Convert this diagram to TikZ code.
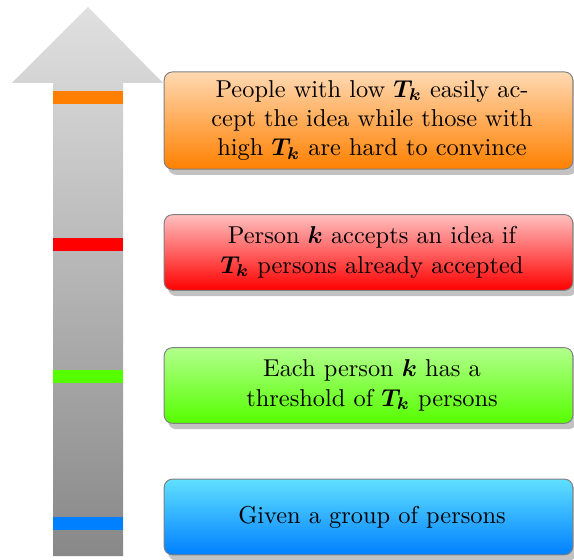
\documentclass[tikz,border=0pt]{standalone}
\usepackage{bm}
\usetikzlibrary{shadows}

\definecolor{barorange}{RGB}{255,128,0}
\definecolor{barred}{RGB}{255,0,0}
\definecolor{bargreen}{RGB}{85,255,0}
\definecolor{barblue}{RGB}{0,128,255}
\definecolor{arrowtop}{RGB}{224,224,224}
\definecolor{arrowbottom}{RGB}{136,136,136}

\tikzset{
    stagebox/.style={rectangle, rounded corners=3.3pt, draw=black!50, align=center,
        text width=161.5pt, minimum height=31pt, inner xsep=3pt, inner ysep=3pt,
        execute at begin node={\leftskip=2.9pt plus 1fil\rightskip=0pt plus 1fil\parfillskip=0pt},
        drop shadow={shadow xshift=1.6pt, shadow yshift=-2.4pt, fill=black!40, opacity=0.6}},
    stagebar/.style={fill=#1}
}

\begin{document}
\begin{tikzpicture}[x=0.41pt,y=-0.41pt]
        \clip (0,0) rectangle (574,560);
        \useasboundingbox (0,0) rectangle (574,560);

        % arrow
        \shade[top color=arrowtop, bottom color=arrowbottom]
            (53,556) -- (53,83) -- (12,83) -- (88,7) -- (163,83) -- (123,83) -- (123,556) -- cycle;

        \fill[stagebar=barorange] (53,91) rectangle (123,104);
        \fill[stagebar=barred] (53,238) rectangle (123,251);
        \fill[stagebar=bargreen] (53,370) rectangle (123,383);
        \fill[stagebar=barblue] (53,517) rectangle (123,530);

        % boxes
        \node[stagebox, minimum height=39.8pt, top color=barorange!30!white, bottom color=barorange] (convince) at (368.5,120.5)
            { People with low $\bm{T_k}$ easily ac-\\ cept the idea while those with\\ high $\bm{T_k}$ are hard to convince };
        \node[stagebox, top color=barred!25!white, bottom color=barred] (accept) at (368.5,252.5)
            { Person $\bm{k}$ accepts an idea if\\ $\bm{T_k}$ persons already accepted };
        \node[stagebox, top color=bargreen!45!white, bottom color=bargreen] (threshold) at (368.5,385.5)
            { Each person $\bm{k}$ has a\\ threshold of $\bm{T_k}$ persons };
        \node[stagebox, top color={rgb,255:red,96;green,224;blue,255}, bottom color=barblue] (group) at (368.5,517)
            { Given a group of persons };

\end{tikzpicture}
\end{document}
